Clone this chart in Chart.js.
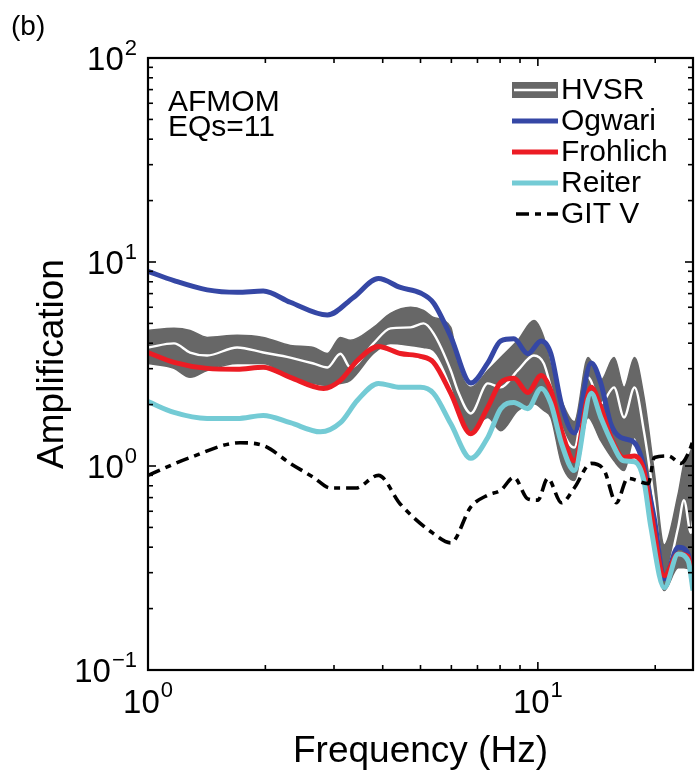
<!DOCTYPE html>
<html><head><meta charset="utf-8">
<script src="https://cdn.jsdelivr.net/npm/chart.js@4.4.0/dist/chart.umd.min.js"></script>
<style>html,body{margin:0;padding:0;background:#fff;}#wrap{width:700px;height:778px;}</style>
</head><body><div id="wrap"><canvas id="c" width="700" height="778"></canvas></div>
<script>
// ---------- data ----------
const hvsrFreq  = [1.0,1.166,1.282,1.418,1.693,1.975,2.317,2.656,2.884,3.116,3.305,3.787,4.19,4.716,5.09,5.40,5.98,6.23,6.73,7.44,8.03,8.88,9.77,10.36,10.8,11.5,12.4,13.45,14.5,15.68,16.64,17.7,18.7,19.87,21.08,22.9,23.7,24.7,25];
const hvsrMean  = [3.81,3.99,3.60,3.48,3.81,3.60,3.40,3.18,3.04,3.55,3.04,3.99,4.73,4.78,5.00,4.47,2.94,2.34,1.81,2.54,2.43,2.94,3.48,3.18,2.43,1.54,1.23,2.72,2.02,2.43,1.73,2.43,1.49,0.68,0.283,0.50,0.68,0.47,0.54];
const hvsrUpper = [4.62,4.73,4.62,4.27,4.37,4.27,3.90,3.81,3.56,4.27,4.13,4.78,5.60,6.00,5.79,5.35,4.78,3.18,2.43,2.94,3.40,4.13,5.17,4.27,3.10,2.10,1.65,3.40,2.63,3.40,2.43,3.40,2.20,0.95,0.41,0.73,1.03,1.19,1.33];
const hvsrLower = [3.18,3.01,2.72,2.94,3.18,3.18,2.72,2.54,2.48,2.54,2.63,3.56,3.99,3.90,3.81,3.69,2.54,1.98,1.49,1.73,1.49,1.87,2.02,1.87,1.73,1.03,0.85,1.73,1.33,1.06,0.95,1.38,0.95,0.43,0.245,0.317,0.317,0.307,0.29];

const ogwariFreq = [1.0,1.166,1.418,1.693,1.975,2.317,2.884,3.365,3.90,4.44,5.00,5.40,5.98,6.73,7.44,8.03,8.68,9.42,10.2,10.8,11.5,12.4,13.7,14.5,15.4,16.3,17.7,18.7,19.2,19.9,21.1,22.9,24.3,25];
const ogwariAmp  = [9.0,8.1,7.3,7.1,7.2,6.35,5.5,6.7,8.3,7.5,7.05,6.3,4.3,2.55,3.2,4.1,4.2,3.55,4.1,3.55,2.0,1.45,3.2,2.55,1.6,1.38,1.3,1.0,0.78,0.55,0.28,0.40,0.37,0.265];

const frohlichFreq = [1.0,1.166,1.418,1.693,1.975,2.317,2.82,3.116,3.446,3.90,4.44,5.00,5.40,5.98,6.73,7.44,8.03,8.68,9.42,10.2,10.8,11.5,12.4,13.7,14.5,15.4,16.6,17.7,18.7,19.5,21.1,22.9,24.3,25];
const frohlichAmp  = [3.6,3.22,3.01,2.98,3.05,2.72,2.40,2.63,3.29,3.85,3.56,3.45,3.22,2.27,1.44,1.94,2.57,2.69,2.29,2.78,2.34,1.49,1.06,2.43,1.94,1.38,1.10,1.12,0.95,0.6,0.29,0.37,0.36,0.26];

const reiterFreq = [1.0,1.166,1.418,1.693,1.975,2.317,2.77,3.116,3.446,3.90,4.44,5.00,5.40,5.98,6.73,7.44,8.03,8.68,9.42,10.2,10.8,11.5,12.4,13.7,14.5,15.4,16.6,17.7,18.7,19.5,21.1,22.9,24.3,25];
const reiterAmp  = [2.07,1.83,1.71,1.71,1.77,1.63,1.47,1.63,2.10,2.54,2.43,2.43,2.27,1.61,1.09,1.38,1.91,2.05,1.91,2.40,2.02,1.29,0.95,2.27,1.73,1.33,1.06,1.05,0.85,0.5,0.253,0.37,0.343,0.245];

const gitFreq = [1.0,1.282,1.724,1.975,2.317,2.656,2.94,3.41,3.90,4.44,5.40,5.98,6.73,7.44,8.03,8.68,9.42,10.0,10.6,11.5,12.4,13.7,14.8,15.9,17.0,19.2,19.9,21.6,23.3,24.3,25];
const gitAmp  = [0.90,1.10,1.30,1.26,1.03,0.88,0.78,0.78,0.90,0.65,0.466,0.42,0.63,0.72,0.76,0.88,0.69,0.68,0.87,0.66,0.78,1.03,0.95,0.66,0.87,0.82,1.10,1.12,1.03,1.15,1.33];

const seriesLabels = ['HVSR','Ogwari','Frohlich','Reiter','GIT V'];
const xTickValues = [1,2,3,4,5,6,7,8,9,10,20];
const xMajorValues = [1,10];
const xMajorExponents = [0,1];
const yTickValues = [0.1,0.2,0.3,0.4,0.5,0.6,0.7,0.8,0.9,1,2,3,4,5,6,7,8,9,10,20,30,40,50,60,70,80,90,100];
const yMajorValues = [0.1,1,10,100];
const yMajorExponents = [-1,0,1,2];
const annotationLines = ['AFMOM','EQs=11'];
const panelLabel = '(b)';
const xTitle = 'Frequency (Hz)';
const yTitle = 'Amplification';

// ---------- styling ----------
const FONT = '"Liberation Sans", Arial, Helvetica, sans-serif';
const C_GRAY = '#676767', C_BLUE = '#3547a5', C_RED = '#ec1c24', C_CYAN = '#74cbd5';
const GIT_DASH = [13,6,6,6];
const pts = (fs, as) => fs.map((f, i) => ({x: f, y: as[i]}));

const datasets = [
  {label: seriesLabels[4], data: pts(gitFreq, gitAmp), borderColor: '#000', borderWidth: 3.6, borderDash: GIT_DASH, order: 0},
  {label: seriesLabels[3], data: pts(reiterFreq, reiterAmp), borderColor: C_CYAN, borderWidth: 5, order: 1},
  {label: seriesLabels[2], data: pts(frohlichFreq, frohlichAmp), borderColor: C_RED, borderWidth: 5, order: 2},
  {label: seriesLabels[1], data: pts(ogwariFreq, ogwariAmp), borderColor: C_BLUE, borderWidth: 5, order: 3},
  {label: seriesLabels[0], data: pts(hvsrFreq, hvsrMean), borderColor: '#fff', borderWidth: 2.4, order: 4},
  {label: seriesLabels[0] + ' upper', data: pts(hvsrFreq, hvsrUpper), borderColor: C_GRAY, borderWidth: 1.5, backgroundColor: C_GRAY, fill: '+1', order: 6},
  {label: seriesLabels[0] + ' lower', data: pts(hvsrFreq, hvsrLower), borderColor: C_GRAY, borderWidth: 1.5, fill: false, order: 5}
];
datasets.forEach(d => { d.pointRadius = 0; d.cubicInterpolationMode = 'monotone'; if (d.fill === undefined) d.fill = false; });

const TICK_FONT = 33, EXP_FONT = 22;
function supLabel(ctx, base, exp, xLeft, yBase, yExp) {
  ctx.font = TICK_FONT + 'px ' + FONT; ctx.fillText(base, xLeft, yBase);
  const bw = ctx.measureText(base).width;
  ctx.font = EXP_FONT + 'px ' + FONT; ctx.fillText(exp, xLeft + bw + 1, yExp);
}
function expText(e) { return e < 0 ? '\u2212' + (-e) : String(e); }
function labelWidths(ctx, es) {
  ctx.font = TICK_FONT + 'px ' + FONT; const bw = ctx.measureText('10').width;
  ctx.font = EXP_FONT + 'px ' + FONT; const ew = ctx.measureText(es).width;
  return [bw, ew];
}

const decor = {
  id: 'decor',
  afterDraw(chart) {
    const {ctx, chartArea: a, scales: {x, y}} = chart;
    ctx.save();
    ctx.strokeStyle = '#000'; ctx.fillStyle = '#000';
    ctx.lineWidth = 1.6;
    const seg = (x1, y1, x2, y2) => { ctx.beginPath(); ctx.moveTo(x1, y1); ctx.lineTo(x2, y2); ctx.stroke(); };
    x.ticks.forEach(t => {
      const px = x.getPixelForValue(t.value), L = t.major ? 8 : 5;
      seg(px, a.bottom, px, a.bottom - L); seg(px, a.top, px, a.top + L);
    });
    y.ticks.forEach(t => {
      const py = y.getPixelForValue(t.value), L = t.major ? 8 : 5;
      seg(a.left, py, a.left + L, py); seg(a.right, py, a.right - L, py);
    });
    ctx.lineWidth = 2.2;
    ctx.strokeRect(a.left, a.top, a.right - a.left, a.bottom - a.top);
    ctx.textBaseline = 'middle'; ctx.textAlign = 'left';
    yMajorValues.forEach((v, i) => {
      const py = y.getPixelForValue(v), es = expText(yMajorExponents[i]);
      const [bw, ew] = labelWidths(ctx, es);
      supLabel(ctx, '10', es, a.left - 11 - ew - bw - 1, py + 3, py - 9);
    });
    xMajorValues.forEach((v, i) => {
      const px = x.getPixelForValue(v), es = expText(xMajorExponents[i]);
      const [bw, ew] = labelWidths(ctx, es);
      supLabel(ctx, '10', es, px - (bw + ew + 1) / 2, a.bottom + 34, a.bottom + 21);
    });
    ctx.font = '30px ' + FONT;
    annotationLines.forEach((s, i) => ctx.fillText(s, a.left + 20, a.top + 45 + i * 25));
    ctx.font = '28px ' + FONT;
    ctx.fillText(panelLabel, 11, 27);
    const lx0 = 512, lx1 = 558, tx = 561, rows = [90, 121, 152, 183, 214];
    ctx.font = '30px ' + FONT;
    rows.forEach((ry, i) => {
      if (i === 0) {
        ctx.fillStyle = C_GRAY; ctx.fillRect(lx0, ry - 8, lx1 - lx0, 16);
        ctx.strokeStyle = '#fff'; ctx.lineWidth = 2.4; ctx.setLineDash([]); seg(lx0 + 2, ry, lx1 - 2, ry);
      } else if (i === 4) {
        ctx.strokeStyle = '#000'; ctx.lineWidth = 3.6; ctx.setLineDash(GIT_DASH); seg(lx0 + 4, ry, lx1, ry); ctx.setLineDash([]);
      } else {
        ctx.strokeStyle = [null, C_BLUE, C_RED, C_CYAN][i]; ctx.lineWidth = 5; seg(lx0, ry, lx1, ry);
      }
      ctx.fillStyle = '#000';
      ctx.fillText(seriesLabels[i], tx, ry + 1);
    });
    ctx.restore();
  }
};

new Chart(document.getElementById('c'), {
  type: 'line',
  data: {datasets},
  options: {
    responsive: false, animation: false, devicePixelRatio: 1,
    layout: {padding: {top: 58, right: 7, bottom: 0, left: 0}},
    plugins: {legend: {display: false}, tooltip: {enabled: false}},
    elements: {line: {borderCapStyle: 'butt', borderJoinStyle: 'round'}},
    scales: {
      x: {
        type: 'logarithmic', position: 'bottom', min: 1, max: 25,
        grid: {display: false, drawTicks: false}, border: {display: false},
        ticks: {display: false},
        afterBuildTicks: s => { s.ticks = xTickValues.map(v => ({value: v, major: xMajorValues.includes(v)})); },
        title: {display: true, text: xTitle, color: '#000', font: {family: FONT, size: 37, lineHeight: 1}, padding: {top: 63.5, bottom: 7.5}}
      },
      y: {
        type: 'logarithmic', position: 'left', min: 0.1, max: 100,
        grid: {display: false, drawTicks: false}, border: {display: false},
        ticks: {display: false},
        afterBuildTicks: s => { s.ticks = yTickValues.map(v => ({value: v, major: yMajorValues.includes(v)})); },
        title: {display: true, text: yTitle, color: '#000', font: {family: FONT, size: 37, lineHeight: 1}, padding: {top: 34.5, bottom: 76.5}}
      }
    }
  },
  plugins: [decor]
});
</script></body></html>
